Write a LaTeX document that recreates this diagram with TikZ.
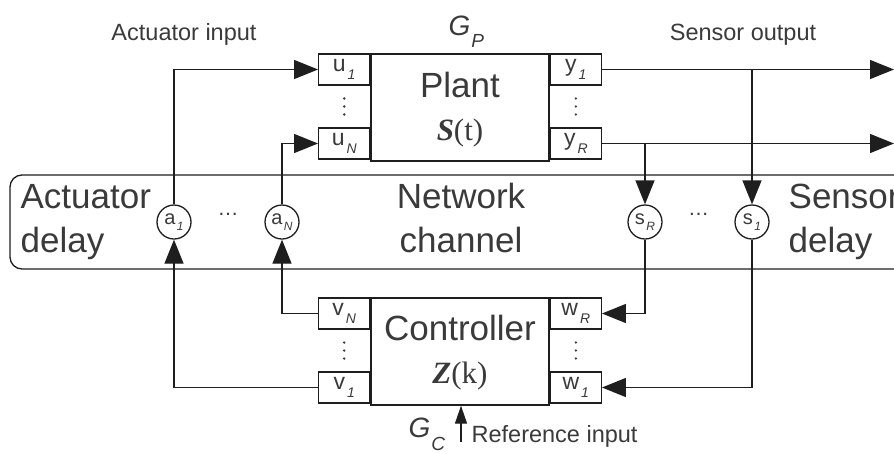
\documentclass[tikz,border=0pt]{standalone}
\usepackage{fontspec}
\setmainfont{Liberation Sans}
\newfontfamily\serifface{Liberation Serif}
\usetikzlibrary{positioning,arrows.meta,calc}
\definecolor{WireGray}{RGB}{30,30,30}
\definecolor{InkGray}{RGB}{58,58,58}
% subscripts of port and relay names
\newcommand{\psub}[1]{\kern2pt\raisebox{-8pt}{\fontsize{14}{14}\selectfont\itshape #1}}
\newcommand{\csub}[1]{\kern1.5pt\raisebox{-6pt}{\fontsize{12}{12}\selectfont\itshape #1}}

\begin{document}
\begin{tikzpicture}[x=1pt,y=-1pt, line width=1.3pt,
    every node/.style={text=InkGray},
    block/.style={draw=WireGray, minimum width=178pt, minimum height=107pt, inner sep=0pt},
    port/.style={draw=WireGray, fill=white, minimum width=51pt, minimum height=31pt,
      inner sep=0pt, font=\fontsize{23}{23}\selectfont},
    relay/.style={circle, draw=WireGray, fill=white, minimum size=34pt, inner sep=0pt,
      font=\fontsize{20}{20}\selectfont},
    bigtext/.style={font=\fontsize{35}{35}\selectfont, inner sep=0pt},
    serifline/.style={font=\fontsize{31}{31}\selectfont\serifface, inner sep=0pt},
    smalltext/.style={font=\fontsize{23.5}{23.5}\selectfont, inner sep=0pt},
    sig/.style={draw=WireGray, -{Triangle[length=24pt,width=19pt]}},
    refsig/.style={draw=WireGray, -{Triangle[length=18pt,width=12pt]}}]
  \useasboundingbox (0,0) rectangle (894,453);
  \clip (0,0) rectangle (894,453);

  % network channel
  \node[draw=WireGray, rounded corners=12pt, minimum width=900pt, minimum height=94pt,
        inner sep=0pt] (net) at (460,222) {};
  \node[bigtext, anchor=base west] (actA) at (20,208) {Actuator};
  \node[bigtext, anchor=base west] (actB) at (20,252) {delay};
  \node[bigtext, anchor=base] (netA) at (461,208) {Network};
  \node[bigtext, anchor=base] (netB) at (461,252) {channel};
  \node[bigtext, anchor=base west] (senA) at (788,208) {Sensor};
  \node[bigtext, anchor=base west] (senB) at (788,252) {delay};

  \node[relay] (a1) at (174,222) {a\csub{1}};
  \node[relay] (aN) at (282,222) {a\csub{N}};
  \node[relay] (sR) at (645,222) {s\csub{R}};
  \node[relay] (s1) at (752,222) {s\csub{1}};
  \node[font=\fontsize{21}{21}\selectfont, inner sep=0pt, anchor=base] (dotsA)
       at ($(a1)!0.5!(aN)+(0,-7)$) {\dots};
  \node[font=\fontsize{21}{21}\selectfont, inner sep=0pt, anchor=base] (dotsS)
       at ($(sR)!0.5!(s1)+(0,-7)$) {\dots};

  % plant
  \node[block] (plant) at (460,107.5) {};
  \node[bigtext, anchor=base] (plantT) at ([yshift=10.5pt]plant.center) {Plant};
  \node[serifline, anchor=base] (plantS) at ([yshift=-32.5pt]plant.center)
       {\textbf{\textit{S}}(t)};
  \node[port, anchor=north east] (u1) at (plant.north west) {u\psub{1}};
  \node[port, anchor=south east] (uN) at ([yshift=2pt]plant.south west) {u\psub{N}};
  \node[port, anchor=north west] (y1) at (plant.north east) {y\psub{1}};
  \node[port, anchor=south west] (yR) at ([yshift=2pt]plant.south east) {y\psub{R}};
  \node[anchor=base west, inner sep=0pt] (gp) at (448,35)
       {\fontsize{28}{28}\selectfont\itshape G\kern1pt\raisebox{-12pt}{\fontsize{19}{19}\selectfont P}};

  % controller
  \node[block] (ctrl) at (460,351.5) {};
  \node[bigtext, anchor=base] (ctrlT) at ([yshift=11.5pt]ctrl.center) {Controller};
  \node[serifline, anchor=base] (ctrlZ) at ([yshift=-31.5pt]ctrl.center)
       {\textbf{\textit{Z}}(k)};
  \node[port, anchor=north east] (vN) at (ctrl.north west) {v\psub{N}};
  \node[port, anchor=south east] (v1) at ([yshift=2pt]ctrl.south west) {v\psub{1}};
  \node[port, anchor=north west] (wR) at (ctrl.north east) {w\psub{R}};
  \node[port, anchor=south west] (w1) at ([yshift=2pt]ctrl.south east) {w\psub{1}};
  \node[anchor=base west, inner sep=0pt] (gc) at (408,437)
       {\fontsize{28}{28}\selectfont\itshape G\kern1pt\raisebox{-13pt}{\fontsize{19}{19}\selectfont C}};

  % vertical dots between the ports
  \foreach \top/\bot in {u1/uN, y1/yR, vN/v1, wR/w1}
    \foreach \k in {-8,0,8}
      \fill[InkGray] ($(\top.south)!0.5!(\bot.north)+(0,\k)$) circle (1.3pt);

  \node[smalltext, anchor=base] (actIn) at (184,40) {Actuator input};
  \node[smalltext, anchor=base] (senOut) at (743,40) {Sensor output};

  % wires
  \coordinate (edge) at (894,0);
  \draw[sig] (a1.north) |- (u1.west);
  \draw[sig] (aN.north) |- (uN.west);
  \draw[sig] (y1.east) -- (y1.east -| edge);
  \draw[sig] (yR.east) -- (yR.east -| edge);
  \draw[sig] (s1 |- y1.east) -- (s1.north);
  \draw[sig] (sR |- yR.east) -- (sR.north);
  \draw[sig] (v1.west) -| (a1.south);
  \draw[sig] (vN.west) -| (aN.south);
  \draw[sig] (sR.south) |- (wR.east);
  \draw[sig] (s1.south) |- (w1.east);

  \coordinate (refin) at (461,442);
  \draw[refsig] (refin) -- (refin |- ctrl.south);
  \node[smalltext, anchor=base west] (refT) at ([xshift=10pt]refin) {Reference input};
\end{tikzpicture}
\end{document}
